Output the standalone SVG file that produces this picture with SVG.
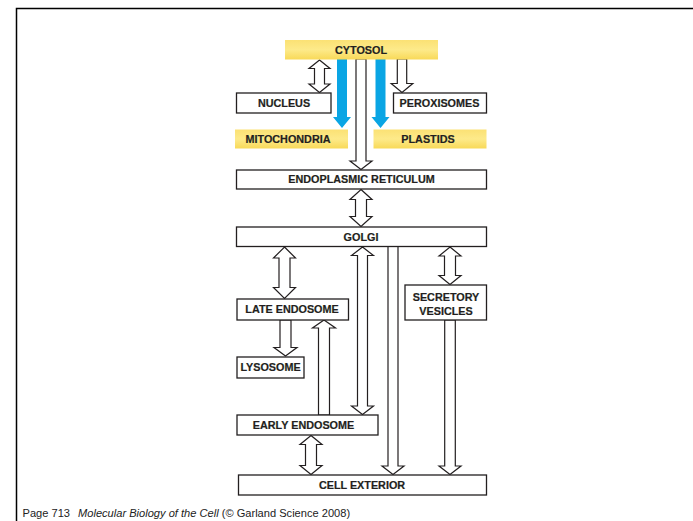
<svg xmlns="http://www.w3.org/2000/svg" width="693" height="521" viewBox="0 0 693 521">
<defs>
<linearGradient id="yg" x1="0" y1="0" x2="0" y2="1">
<stop offset="0" stop-color="#fbe174"/>
<stop offset="0.5" stop-color="#fdea8a"/>
<stop offset="1" stop-color="#f8d958"/>
</linearGradient>
</defs>
<style>
.box{fill:#fff;stroke:#231f20;stroke-width:1.3}
.ybox{fill:url(#yg)}
.lbl{font-family:"Liberation Sans",Arial,sans-serif;font-weight:bold;font-size:10.8px;fill:#231f20;stroke:#231f20;stroke-width:0.2;text-anchor:middle}
.ha{fill:#fff;stroke:#231f20;stroke-width:1.2;stroke-linejoin:miter}
.ba{fill:#0aa5e4}
.foot{font-family:"Liberation Sans",Arial,sans-serif;font-size:11.1px;fill:#222}
</style>
<rect width="693" height="521" fill="#fff"/>
<path d="M16.5,521 V8.5 H693" fill="none" stroke="#000" stroke-width="1.5"/>
<g id="connectors">
<polygon class="ha" points="319.5,60 330,68.5 324.5,68.5 324.5,84 330,84 319.5,92.5 309,84 314.5,84 314.5,68.5 309,68.5"/>
<polygon class="ba" points="337,59 347,59 347,117 351,117 342,128 333,117 337,117"/>
<polygon class="ba" points="375.5,59 385.5,59 385.5,117 389.5,117 380.5,128 371.5,117 375.5,117"/>
<polygon class="ha" points="356,59 366,59 366,161 372,161 361,169.5 350,161 356,161"/>
<polygon class="ha" points="397.3,59 406.7,59 406.7,83.5 412.8,83.5 402,92.5 391.2,83.5 397.3,83.5"/>
<polygon class="ha" points="361,189.5 372,199.5 366.5,199.5 366.5,216.5 372,216.5 361,226.5 350,216.5 355.5,216.5 355.5,199.5 350,199.5"/>
<polygon class="ha" points="284.5,247 295.5,258 290,258 290,287.5 295.5,287.5 284.5,298.5 273.5,287.5 279,287.5 279,258 273.5,258"/>
<polygon class="ha" points="362.5,247 373.5,255.5 367.5,255.5 367.5,406 373.5,406 362.5,414.5 351.5,406 357.5,406 357.5,255.5 351.5,255.5"/>
<polygon class="ha" points="450,247 461,256 455.5,256 455.5,275.5 461,275.5 450,284.5 439,275.5 444.5,275.5 444.5,256 439,256"/>
<polygon class="ha" points="280,320 291,320 291,347.5 297,347.5 285.5,356 274,347.5 280,347.5"/>
<polygon class="ha" points="318.5,415 329.5,415 329.5,328 335.5,328 324,320 312.5,328 318.5,328"/>
<polygon class="ha" points="311,435.5 322,444.5 316.5,444.5 316.5,465.5 322,465.5 311,474.5 300,465.5 305.5,465.5 305.5,444.5 300,444.5"/>
<polygon class="ha" points="388,246.5 398,246.5 398,466 404,466 393,474.5 382,466 388,466"/>
<polygon class="ha" points="444.7,320 455.3,320 455.3,466 461,466 450,474.5 439,466 444.7,466"/>
</g>
<g id="cytosol"><rect class="ybox" x="285" y="40" width="153" height="19.5"/><text class="lbl" x="361" y="53.6">CYTOSOL</text></g>
<g id="nucleus"><rect class="box" x="236.5" y="93" width="94.5" height="20"/><text class="lbl" x="284" y="106.9">NUCLEUS</text></g>
<g id="peroxisomes"><rect class="box" x="393.5" y="93" width="93" height="20"/><text class="lbl" x="439.5" y="106.9">PEROXISOMES</text></g>
<g id="mitochondria"><rect class="ybox" x="235" y="129.5" width="113" height="19"/><text class="lbl" x="288" y="142.9">MITOCHONDRIA</text></g>
<g id="plastids"><rect class="ybox" x="373.5" y="129.5" width="113" height="19"/><text class="lbl" x="428" y="142.9">PLASTIDS</text></g>
<g id="er"><rect class="box" x="236.5" y="170" width="250" height="19"/><text class="lbl" x="361.5" y="183.4">ENDOPLASMIC RETICULUM</text></g>
<g id="golgi"><rect class="box" x="236.5" y="227" width="250" height="19.5"/><text class="lbl" x="361" y="240.6">GOLGI</text></g>
<g id="late-endosome"><rect class="box" x="237" y="299" width="111.5" height="21"/><text class="lbl" x="292" y="313.4">LATE ENDOSOME</text></g>
<g id="secretory-vesicles"><rect class="box" x="405" y="285" width="81.5" height="35"/><text class="lbl" x="446" y="300.5">SECRETORY</text><text class="lbl" x="446" y="315">VESICLES</text></g>
<g id="lysosome"><rect class="box" x="237" y="357" width="67" height="21"/><text class="lbl" x="270.5" y="371.4">LYSOSOME</text></g>
<g id="early-endosome"><rect class="box" x="237" y="415" width="141" height="20"/><text class="lbl" x="303.5" y="428.9">EARLY ENDOSOME</text></g>
<g id="cell-exterior"><rect class="box" x="238.5" y="475" width="248" height="20"/><text class="lbl" x="362" y="488.9">CELL EXTERIOR</text></g>
<text class="foot" x="22.5" y="516.5">Page 713<tspan dx="8" font-style="italic">Molecular Biology of the Cell</tspan> (© Garland Science 2008)</text>
</svg>
